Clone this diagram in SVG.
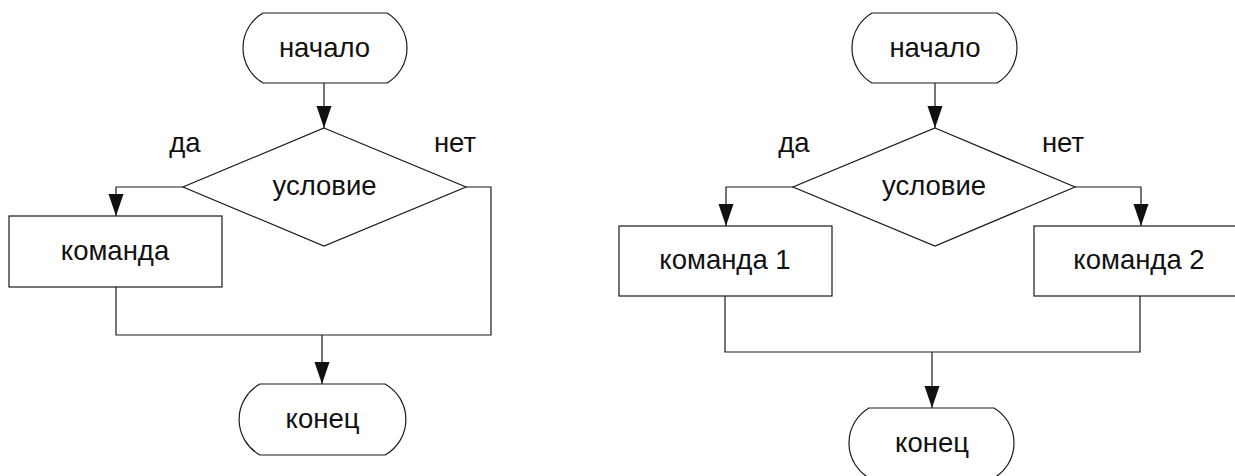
<svg xmlns="http://www.w3.org/2000/svg" width="1235" height="476" viewBox="0 0 1235 476">
<style>
.shape{fill:#fff;stroke:#1a1a1a;stroke-width:1.2}
.conn{fill:none;stroke:#1a1a1a;stroke-width:1.2}
.t{font-family:"Liberation Sans",Arial,sans-serif;font-size:27.5px;fill:#111;text-anchor:middle}
</style>
<defs>
<marker id="arr" markerUnits="userSpaceOnUse" markerWidth="22" markerHeight="16" refX="22" refY="7.5" orient="auto">
<path d="M0,0 L22,7.5 L0,15 Z" fill="#111"/>
</marker>
</defs>
<rect width="1235" height="476" fill="#fff"/>
<g id="connectors">
<path class="conn" d="M324,83 V128" marker-end="url(#arr)"/>
<path class="conn" d="M183,187 H116 V216" marker-end="url(#arr)"/>
<path class="conn" d="M116,287 V335 H491 V187 H466"/>
<path class="conn" d="M322,335 V384" marker-end="url(#arr)"/>
<path class="conn" d="M935,83 V128" marker-end="url(#arr)"/>
<path class="conn" d="M793,187 H726 V226" marker-end="url(#arr)"/>
<path class="conn" d="M1075,187 H1141 V226" marker-end="url(#arr)"/>
<path class="conn" d="M725,296 V352 H1140 V296"/>
<path class="conn" d="M932,352 V408" marker-end="url(#arr)"/>
</g>
<g id="l-start">
<path class="shape" d="M263,13 H387 A40.6,40.6 0 0 1 387,83 H263 A40.6,40.6 0 0 1 263,13 Z"/>
<text class="t" x="324.5" y="57">начало</text>
</g>
<g id="l-cond">
<path class="shape" d="M324,128 L466,187 L324,246 L183,187 Z"/>
<text class="t" x="324.5" y="195">условие</text>
</g>
<g id="l-yes"><text class="t" x="185" y="152">да</text></g>
<g id="l-no"><text class="t" x="455" y="152">нет</text></g>
<g id="l-cmd">
<rect class="shape" x="9" y="216" width="213" height="71"/>
<text class="t" x="115" y="260">команда</text>
</g>
<g id="l-end">
<path class="shape" d="M260,384 H385 A40.6,40.6 0 0 1 385,455 H260 A40.6,40.6 0 0 1 260,384 Z"/>
<text class="t" x="322.5" y="428">конец</text>
</g>
<g id="r-start">
<path class="shape" d="M872,13 H997 A40.6,40.6 0 0 1 997,83 H872 A40.6,40.6 0 0 1 872,13 Z"/>
<text class="t" x="935" y="57">начало</text>
</g>
<g id="r-cond">
<path class="shape" d="M935,128 L1075,187 L935,246 L793,187 Z"/>
<text class="t" x="934" y="195">условие</text>
</g>
<g id="r-yes"><text class="t" x="794" y="152">да</text></g>
<g id="r-no"><text class="t" x="1063" y="152">нет</text></g>
<g id="r-cmd1">
<rect class="shape" x="619" y="226" width="213" height="70"/>
<text class="t" x="725" y="269">команда 1</text>
</g>
<g id="r-cmd2">
<rect class="shape" x="1034" y="226" width="213" height="70"/>
<text class="t" x="1139" y="269">команда 2</text>
</g>
<g id="r-end">
<path class="shape" d="M869,408 H994 A40.6,40.6 0 0 1 994,478 H869 A40.6,40.6 0 0 1 869,408 Z"/>
<text class="t" x="932" y="452">конец</text>
</g>
</svg>
